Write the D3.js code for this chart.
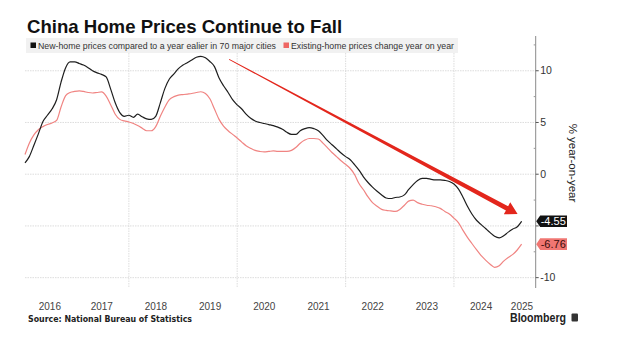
<!DOCTYPE html>
<html><head><meta charset="utf-8">
<script src="https://cdn.jsdelivr.net/npm/d3@7"></script>
<style>body{margin:0;background:#fff}svg{display:block}</style>
</head><body><svg id="c" width="619" height="342"></svg>
<script>
// ---- data (monthly, y/y %) ----
const firstMonth = [2016, 1]; // Feb 2016 (JS month index)
const newHome = [
 1.1,1.7,2.8,3.9,5.1,5.7,6.3,7.2,8.9,10.3,10.85,
 10.85,10.7,10.55,10.3,10.0,9.8,9.65,9.4,8.2,6.9,5.95,5.6,
 5.7,5.5,5.8,5.55,5.35,5.3,5.6,6.9,8.3,9.2,9.7,10.2,
 10.55,10.8,11.05,11.3,11.4,11.25,10.9,10.4,9.3,8.55,7.9,7.2,
 6.7,6.3,5.8,5.4,5.15,5.0,4.9,4.8,4.7,4.55,4.35,4.05,
 3.85,3.85,4.2,4.4,4.5,4.4,4.2,3.75,3.25,2.85,2.45,2.05,
 1.7,1.4,0.95,0.4,-0.25,-0.8,-1.25,-1.65,-2.0,-2.3,-2.35,-2.25,
 -2.2,-2.0,-1.5,-1.0,-0.6,-0.4,-0.4,-0.5,-0.55,-0.55,-0.6,-0.7,
 -0.95,-1.45,-2.2,-3.1,-3.85,-4.45,-4.85,-5.25,-5.65,-6.0,-6.15,-5.95,
 -5.6,-5.3,-5.1,-4.55
];
const existingHome = [
 1.9,3.0,3.8,4.3,4.6,4.8,4.95,5.2,6.5,7.6,7.9,
 8.0,8.05,8.0,7.9,7.85,7.9,7.95,7.55,6.7,5.8,5.3,5.15,
 5.05,4.9,4.7,4.45,4.2,4.2,4.6,5.6,6.5,7.2,7.5,7.65,
 7.7,7.75,7.8,7.9,7.97,7.8,7.3,6.3,5.3,4.65,4.2,3.85,
 3.5,3.1,2.75,2.5,2.3,2.2,2.15,2.2,2.25,2.2,2.2,2.2,
 2.3,2.6,3.0,3.3,3.45,3.45,3.4,3.0,2.55,2.1,1.7,1.3,
 0.95,0.55,0.0,-0.9,-1.5,-2.2,-2.75,-3.1,-3.4,-3.5,-3.55,-3.6,
 -3.4,-3.0,-2.6,-2.5,-2.75,-2.9,-3.0,-3.05,-3.15,-3.3,-3.6,-3.85,
 -4.25,-4.7,-5.4,-6.1,-6.7,-7.3,-7.85,-8.3,-8.7,-9.0,-8.85,-8.4,
 -8.05,-7.75,-7.35,-6.76
];
const yearLabels = ["2016","2017","2018","2019","2020","2021","2022","2023","2024","2025"];
const gridYears = [2018, 2020, 2022, 2024];
const yTicks = [10, 5, 0, -5, -10];
const yTickLabels = [10, 5, 0, -10]; // -5 label is covered by the last-value tag
const yMinorTicks = [12.5, 7.5, 2.5, -2.5, -7.5];
const lastValues = ["-4.55", "-6.76"];
const seriesNames = ["New-home prices compared to a year ealier in 70 major cities",
                     "Existing-home prices change year on year"];
const titleText = "China Home Prices Continue to Fall";
const sourceText = "Source: National Bureau of Statistics";
const axisTitle = "% year-on-year";

// ---- layout ----
const svg = d3.select("#c");
const L = 25, R = 535.7, T = 36, B = 288;
const colBlack = "#1e1e1e", colRed = "#f08482", colArrow = "#e3261c";
const months = newHome.map((_, i) => new Date(firstMonth[0], firstMonth[1] + i, 1));
const x = d3.scaleTime().domain([new Date(2016,1,1), new Date(2025,6,5)]).range([L, R]);
const y = d3.scaleLinear().domain([-11, 13.36]).range([B, T]);

function fit(sel, w) { sel.attr("textLength", w).attr("lengthAdjust", "spacingAndGlyphs"); return sel; }

// gridlines
const g = svg.append("g");
g.selectAll(".hg").data(yTicks).join("line")
 .attr("x1", L).attr("x2", R).attr("y1", d => y(d)).attr("y2", d => y(d))
 .attr("stroke", "#d4d4d4").attr("stroke-width", 0.8).attr("stroke-dasharray", "1.5,1");
g.selectAll(".vg").data(gridYears).join("line")
 .attr("x1", d => x(new Date(d,0,1))).attr("x2", d => x(new Date(d,0,1)))
 .attr("y1", T + 2).attr("y2", B)
 .attr("stroke", "#d4d4d4").attr("stroke-width", 0.8).attr("stroke-dasharray", "1.5,1");

// legend
svg.append("rect").attr("x", 26).attr("y", 38).attr("width", 432).attr("height", 15).attr("fill", "#f1f1f1");
svg.append("rect").attr("x", 30.5).attr("y", 42.5).attr("width", 5.5).attr("height", 5.5).attr("fill", "#111");
fit(svg.append("text").attr("x", 38).attr("y", 48.5).attr("font-family", "Liberation Sans, Arial, sans-serif")
 .attr("font-size", 9.5).attr("fill", "#333").text(seriesNames[0]), 238);
svg.append("rect").attr("x", 283.5).attr("y", 42.5).attr("width", 5.5).attr("height", 5.5).attr("fill", "#ee6663");
fit(svg.append("text").attr("x", 291).attr("y", 48.5).attr("font-family", "Liberation Sans, Arial, sans-serif")
 .attr("font-size", 9.5).attr("fill", "#333").text(seriesNames[1]), 163);

// lines
const line = d3.line().x((d, i) => x(months[i])).y(d => y(d)).curve(d3.curveMonotoneX);
svg.append("path").datum(existingHome).attr("d", line).attr("fill", "none").attr("stroke", colRed).attr("stroke-width", 1.2);
svg.append("path").datum(newHome).attr("d", line).attr("fill", "none").attr("stroke", colBlack).attr("stroke-width", 1.2);

// arrow annotation (data-anchored)
const a0 = [x(new Date(2019,10,8)), y(11.1)], a1 = [x(new Date(2025,2,5)), y(-3.85)];
{
  const dx = a1[0]-a0[0], dy = a1[1]-a0[1], len = Math.hypot(dx, dy);
  const ux = dx/len, uy = dy/len, nx = -uy, ny = ux;
  const hl = 12, hw = 6.8, w0 = 0.4, w1 = 2.3;
  const bx = a1[0]-ux*hl, by = a1[1]-uy*hl;
  const pts = [
    [a0[0]+nx*w0, a0[1]+ny*w0], [bx+nx*w1, by+ny*w1], [bx+nx*hw, by+ny*hw], a1,
    [bx-nx*hw, by-ny*hw], [bx-nx*w1, by-ny*w1], [a0[0]-nx*w0, a0[1]-ny*w0]];
  svg.append("path").attr("d", "M" + pts.map(p => p.join(",")).join("L") + "Z").attr("fill", colArrow);
}

// right axis
svg.append("line").attr("x1", R).attr("x2", R).attr("y1", T).attr("y2", B).attr("stroke", "#8a8a8a").attr("stroke-width", 1);
svg.selectAll(".yt").data(yTicks).join("line")
 .attr("x1", R).attr("x2", R + 3).attr("y1", d => y(d)).attr("y2", d => y(d)).attr("stroke", "#555");
svg.selectAll(".ym").data(yMinorTicks).join("line")
 .attr("x1", R - 2).attr("x2", R).attr("y1", d => y(d)).attr("y2", d => y(d)).attr("stroke", "#999");
svg.selectAll(".yl").data(yTickLabels).join("text")
 .attr("x", R + 4.5).attr("y", d => y(d) + 3.7).attr("font-family", "Liberation Sans, Arial, sans-serif")
 .attr("font-size", 10.5).attr("fill", "#333").text(d => d);
svg.append("text").attr("transform", `translate(569,163) rotate(90)`).attr("text-anchor", "middle")
 .attr("font-family", "Liberation Sans, Arial, sans-serif").attr("font-size", 11.5).attr("fill", "#222").text(axisTitle);

// last-value tags
const tagData = [
  {v: newHome[newHome.length-1], t: lastValues[0], fill: "#111", txt: "#fff"},
  {v: existingHome[existingHome.length-1], t: lastValues[1], fill: "#f07672", txt: "#3a0d0c"}];
tagData.forEach(d => {
  const cy = y(d.v), x0 = R + 0.5, x1 = 567, h = 5.8;
  svg.append("path").attr("d", `M${x0},${cy}L${x0+4},${cy-h}L${x1},${cy-h}L${x1},${cy+h}L${x0+4},${cy+h}Z`).attr("fill", d.fill);
  svg.append("text").attr("x", x0 + 4.5).attr("y", cy + 3.8).attr("font-family", "Liberation Sans, Arial, sans-serif")
   .attr("font-size", 11).attr("fill", d.txt).text(d.t);
});

// x labels: centered in visible part of each year
svg.selectAll(".xl").data(yearLabels).join("text")
 .attr("x", d => {
   const a = Math.max(L, x(new Date(+d,0,1))), b = Math.min(R, x(new Date(+d+1,0,1)));
   return (a + b) / 2;
 })
 .attr("y", 310).attr("text-anchor", "middle").attr("font-family", "Liberation Sans, Arial, sans-serif")
 .attr("font-size", 10).attr("fill", "#444").text(d => d);

// title & footer
svg.append("text").attr("x", 27).attr("y", 33).attr("font-family", "Liberation Sans, Arial, sans-serif")
 .attr("font-weight", "bold").attr("font-size", 18.6).attr("fill", "#111").text(titleText);
fit(svg.append("text").attr("x", 28).attr("y", 322).attr("font-family", "DejaVu Sans, sans-serif")
 .attr("font-weight", "bold").attr("font-size", 8).attr("fill", "#222").text(sourceText), 164);
fit(svg.append("text").attr("x", 510).attr("y", 322).attr("font-family", "Liberation Sans, Arial, sans-serif")
 .attr("font-weight", "bold").attr("font-size", 12).attr("fill", "#222").text("Bloomberg"), 56);
svg.append("rect").attr("x", 571.5).attr("y", 313.5).attr("width", 6.5).attr("height", 8).attr("rx", 1).attr("fill", "#333");
</script></body></html>
